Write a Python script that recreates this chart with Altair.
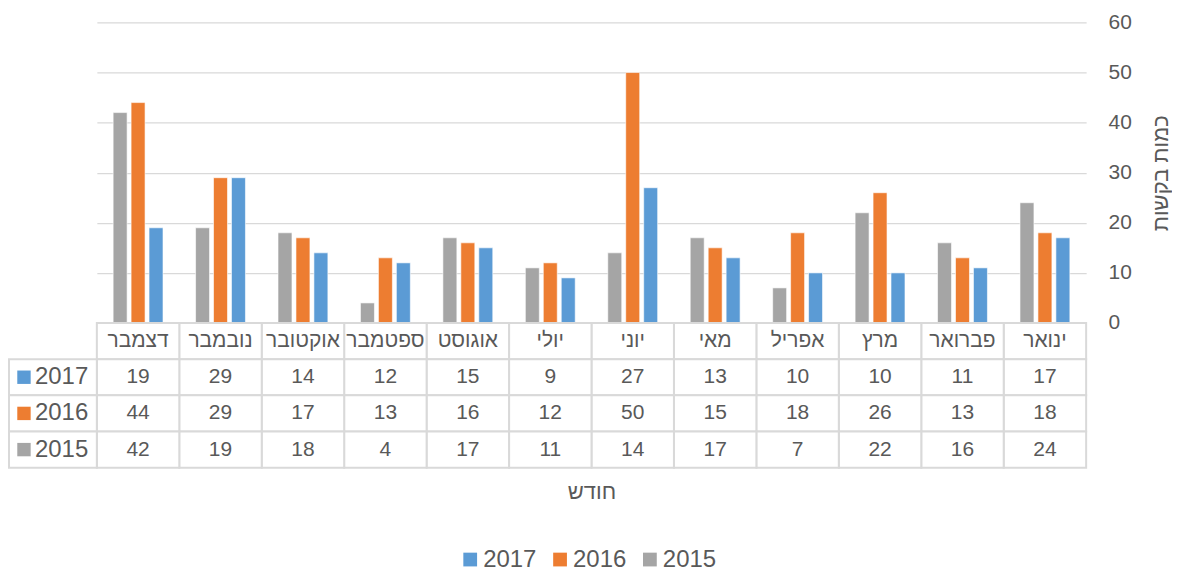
import altair as alt
import pandas as pd

# ---- data ----
months = ["ינואר", "פברואר", "מרץ", "אפריל", "מאי", "יוני",
          "יולי", "אוגוסט", "ספטמבר", "אוקטובר", "נובמבר", "דצמבר"]
v2017 = [17, 11, 10, 10, 13, 27, 9, 15, 12, 14, 29, 19]
v2016 = [18, 13, 26, 18, 15, 50, 12, 16, 13, 17, 29, 44]
v2015 = [24, 16, 22, 7, 17, 14, 11, 17, 4, 18, 19, 42]
years = ["2017", "2016", "2015"]
colors = ["#5B9BD5", "#ED7D31", "#A5A5A5"]
y_ticks = [0, 10, 20, 30, 40, 50, 60]
y_title = "כמות בקשות"
x_title = "חודש"

series = {"2017": v2017, "2016": v2016, "2015": v2015}
month_order = months[::-1]          # right-to-left: January on the right
MONTH_ROW = "month"
row_order = [MONTH_ROW] + years

bars_df = pd.DataFrame(
    [{"month": m, "year": y, "value": series[y][i]}
     for y in years for i, m in enumerate(months)]
)
table_rows = [{"month": m, "row": MONTH_ROW, "label": m} for m in months]
table_rows += [{"month": m, "row": y, "label": str(series[y][i])}
               for y in years for i, m in enumerate(months)]
table_df = pd.DataFrame(table_rows)
header_df = pd.DataFrame({"row": years, "year": years})

FONT = "Liberation Sans"
TXT = "#595959"
GRID = "#D9D9D9"

color_enc = alt.Color(
    "year:N",
    scale=alt.Scale(domain=years, range=colors),
    legend=alt.Legend(
        orient="none", legendX=362, legendY=526, direction="horizontal",
        title=None, symbolType="square", symbolSize=190, symbolStrokeWidth=0,
        labelFontSize=24, labelFont=FONT, labelColor=TXT, labelOffset=1,
        columnPadding=11,
    ),
)

bars = alt.Chart(bars_df).mark_bar(stroke="white", strokeWidth=0.6).encode(
    x=alt.X("month:N", sort=month_order,
            scale=alt.Scale(paddingInner=0.395, paddingOuter=0.1975), axis=None),
    xOffset=alt.XOffset("year:N", sort=["2015", "2016", "2017"],
                        scale=alt.Scale(paddingInner=0.222)),
    y=alt.Y("value:Q", scale=alt.Scale(domain=[0, 60], nice=False),
            axis=alt.Axis(orient="right", values=y_ticks, grid=True,
                          gridColor=GRID, gridWidth=1.3, domain=False,
                          ticks=False, labelPadding=22, labelFontSize=21,
                          labelColor=TXT, labelFont=FONT, title=y_title,
                          titleAngle=270, titleBaseline="top", titleFontSize=22,
                          titleFontWeight="normal", titleColor=TXT,
                          titleFont=FONT, titlePadding=19)),
    color=color_enc,
).properties(width=991, height=301)

row_scale = alt.Scale(domain=row_order, paddingInner=0, paddingOuter=0)

tbase = alt.Chart(table_df).encode(
    x=alt.X("month:N", sort=month_order,
            scale=alt.Scale(paddingInner=0, paddingOuter=0),
            axis=alt.Axis(labels=False, ticks=False, domain=False,
                          title=x_title, titleFontSize=22,
                          titleFontWeight="normal", titleColor=TXT,
                          titleFont=FONT, titlePadding=14)),
    y=alt.Y("row:N", sort=row_order, scale=row_scale, axis=None),
)
cells = tbase.mark_rect(fill="white", stroke=GRID, strokeWidth=2)
texts = tbase.mark_text(fontSize=21, font=FONT, color=TXT).encode(text="label:N")

hbase = alt.Chart(header_df).encode(
    y=alt.Y("row:N", sort=row_order, scale=row_scale, axis=None)
)
hcells = hbase.mark_rect(fill="white", stroke=GRID, strokeWidth=2).encode(
    x=alt.value(-88), x2=alt.value(0))
hkeys = hbase.mark_square(size=180, opacity=1, filled=True).encode(
    x=alt.value(-73), color=color_enc)
hlabels = hbase.mark_text(align="left", fontSize=24, font=FONT, color=TXT).encode(
    x=alt.value(-62), text="year:N")

table = alt.layer(cells, texts, hcells, hkeys, hlabels).properties(width=991, height=145)

chart = (
    alt.vconcat(bars, table, spacing=0, bounds="flush")
    .resolve_scale(x="independent", y="independent", color="shared")
    .properties(padding={"left": 0, "top": 3, "right": 0, "bottom": 0})
    .configure(font=FONT)
    .configure_view(stroke=None)
)

chart.save("out.html", embed_options={"renderer": "svg", "actions": False})
